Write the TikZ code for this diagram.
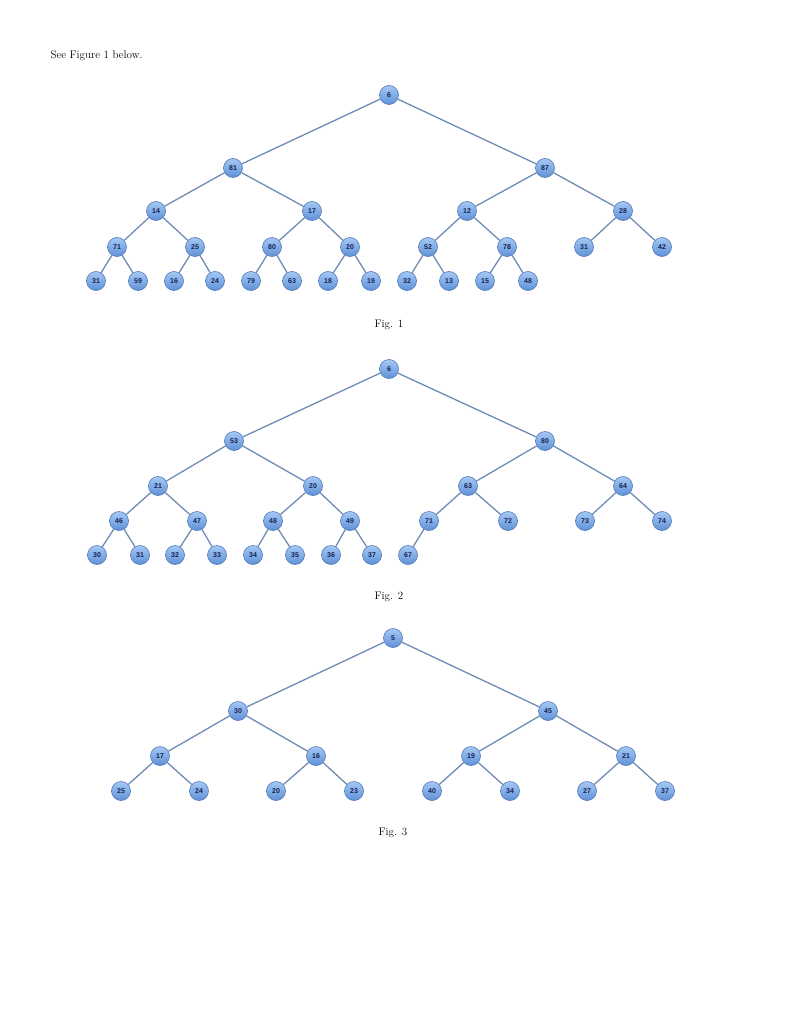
\documentclass[tikz,border=0pt]{standalone}
\usepackage{fontspec}
\newfontfamily\nodefont{Liberation Sans}
\definecolor{ntop}{RGB}{165,200,245}
\definecolor{nbot}{RGB}{95,145,215}
\definecolor{nedge}{RGB}{80,120,180}
\definecolor{ntext}{RGB}{20,35,80}
\definecolor{ecol}{RGB}{110,140,180}
\tikzset{
  n/.style={circle,minimum size=19pt,inner sep=0pt,draw=nedge,line width=0.6pt,
    top color=ntop,bottom color=nbot,text=ntext,font=\nodefont\bfseries\fontsize{7}{8}\selectfont},
  e/.style={draw=ecol,line width=1.3pt},
  figcap/.style={font=\fontsize{11}{13}\selectfont}
}
\begin{document}
\begin{tikzpicture}[x=1pt,y=-1pt]
\useasboundingbox (0,0) rectangle (791,1024);
\node[anchor=west,font=\fontsize{11}{13}\selectfont] (intro) at (47,56) {See Figure 1 below.};
% Fig 1
\node[n] (a) at (389,95) {6};
\node[n] (a1) at (233,168) {81};
\node[n] (a2) at (545,168) {87};
\node[n] (a11) at (156,211) {14};
\node[n] (a12) at (312,211) {17};
\node[n] (a21) at (467,211) {12};
\node[n] (a22) at (623,211) {28};
\node[n] (a111) at (117,247) {71};
\node[n] (a112) at (195,247) {25};
\node[n] (a121) at (272,247) {80};
\node[n] (a122) at (350,247) {20};
\node[n] (a211) at (428,247) {52};
\node[n] (a212) at (507,247) {78};
\node[n] (a221) at (584,247) {31};
\node[n] (a222) at (662,247) {42};
\node[n] (b1) at (96,281) {31};
\node[n] (b2) at (138,281) {59};
\node[n] (b3) at (174,281) {16};
\node[n] (b4) at (215,281) {24};
\node[n] (b5) at (251,281) {79};
\node[n] (b6) at (292,281) {63};
\node[n] (b7) at (328,281) {18};
\node[n] (b8) at (371,281) {19};
\node[n] (b9) at (407,281) {32};
\node[n] (b10) at (449,281) {13};
\node[n] (b11) at (485,281) {15};
\node[n] (b12) at (528,281) {48};
\draw[e] (a)--(a1) (a)--(a2) (a1)--(a11) (a1)--(a12) (a2)--(a21) (a2)--(a22)
 (a11)--(a111) (a11)--(a112) (a12)--(a121) (a12)--(a122) (a21)--(a211) (a21)--(a212)
 (a22)--(a221) (a22)--(a222)
 (a111)--(b1) (a111)--(b2) (a112)--(b3) (a112)--(b4) (a121)--(b5) (a121)--(b6)
 (a122)--(b7) (a122)--(b8) (a211)--(b9) (a211)--(b10) (a212)--(b11) (a212)--(b12);
\node[figcap] (c1) at (389,325) {Fig. 1};
% Fig 2
\node[n] (p) at (389,369) {6};
\node[n] (p1) at (234,441) {53};
\node[n] (p2) at (545,441) {80};
\node[n] (p11) at (158,486) {21};
\node[n] (p12) at (313,486) {20};
\node[n] (p21) at (468,486) {63};
\node[n] (p22) at (623,486) {64};
\node[n] (p111) at (119,521) {46};
\node[n] (p112) at (197,521) {47};
\node[n] (p121) at (273,521) {48};
\node[n] (p122) at (350,521) {49};
\node[n] (p211) at (429,521) {71};
\node[n] (p212) at (508,521) {72};
\node[n] (p221) at (585,521) {73};
\node[n] (p222) at (662,521) {74};
\node[n] (q1) at (97,555) {30};
\node[n] (q2) at (140,555) {31};
\node[n] (q3) at (175,555) {32};
\node[n] (q4) at (217,555) {33};
\node[n] (q5) at (253,555) {34};
\node[n] (q6) at (295,555) {35};
\node[n] (q7) at (331,555) {36};
\node[n] (q8) at (372,555) {37};
\node[n] (q9) at (408,555) {67};
\draw[e] (p)--(p1) (p)--(p2) (p1)--(p11) (p1)--(p12) (p2)--(p21) (p2)--(p22)
 (p11)--(p111) (p11)--(p112) (p12)--(p121) (p12)--(p122) (p21)--(p211) (p21)--(p212)
 (p22)--(p221) (p22)--(p222)
 (p111)--(q1) (p111)--(q2) (p112)--(q3) (p112)--(q4) (p121)--(q5) (p121)--(q6)
 (p122)--(q7) (p122)--(q8) (p211)--(q9);
\node[figcap] (c2) at (389,597) {Fig. 2};
% Fig 3
\node[n] (r) at (393,638) {5};
\node[n] (r1) at (238,711) {30};
\node[n] (r2) at (548,711) {45};
\node[n] (r11) at (160,756) {17};
\node[n] (r12) at (316,756) {16};
\node[n] (r21) at (471,756) {19};
\node[n] (r22) at (626,756) {21};
\node[n] (s1) at (121,791) {25};
\node[n] (s2) at (199,791) {24};
\node[n] (s3) at (276,791) {20};
\node[n] (s4) at (354,791) {23};
\node[n] (s5) at (432,791) {40};
\node[n] (s6) at (510,791) {34};
\node[n] (s7) at (587,791) {27};
\node[n] (s8) at (665,791) {37};
\draw[e] (r)--(r1) (r)--(r2) (r1)--(r11) (r1)--(r12) (r2)--(r21) (r2)--(r22)
 (r11)--(s1) (r11)--(s2) (r12)--(s3) (r12)--(s4) (r21)--(s5) (r21)--(s6)
 (r22)--(s7) (r22)--(s8);
\node[figcap] (c3) at (393,833) {Fig. 3};
\end{tikzpicture}
\end{document}
